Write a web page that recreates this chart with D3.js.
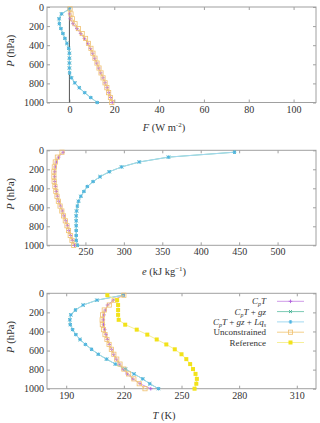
<!DOCTYPE html>
<html>
<head>
<meta charset="utf-8">
<script src="https://cdn.jsdelivr.net/npm/d3@7"></script>
<style>
  body { margin: 0; background: #fff; }
  svg { display: block; font-family: "Liberation Serif", "DejaVu Serif", serif; }
</style>
</head>
<body>
<div id="chart"></div>
<script>
// pressure levels (hPa), top to bottom
const levels = [20, 72, 123, 175, 226, 278, 329, 381, 433, 484, 536, 587, 639, 690, 742, 794, 845, 897, 948, 1000];

// F (W m-2)
const fluxCpT    = [0, 0.1, 0.4, 1.6, 3.3, 5.0, 6.7, 8.2, 9.4, 10.4, 11.3, 12.2, 13.1, 14.0, 15.0, 15.9, 16.8, 17.6, 18.4, 19.1];
const fluxCpTgz  = [0, -3.5, -4.6, -4.5, -3.8, -2.9, -2.0, -1.1, -0.3, 0, 0, 0, 0, 0.1, 0.9, 2.4, 4.4, 6.8, 9.5, 12.4];
const fluxCpTgzL = [0, -3.5, -4.6, -4.5, -3.8, -2.9, -2.0, -1.1, -0.3, 0, 0, 0, 0, 0.1, 0.9, 2.4, 4.4, 6.8, 9.5, 12.4];
const fluxUnc    = [0.3, 0.7, 1.3, 2.5, 4.0, 5.7, 7.2, 8.5, 9.6, 10.5, 11.4, 12.3, 13.2, 14.1, 15.0, 15.9, 16.7, 17.5, 18.3, 18.9];

// e (kJ kg-1)
const enCpT    = [221, 215, 212, 210.5, 210, 209.8, 210, 211, 212, 213.5, 215.3, 217.5, 219.8, 222, 224.3, 226.5, 228.5, 230.7, 233, 235.8];
const enCpTgz  = [444, 358, 320, 297, 281, 269, 260, 252.5, 248, 244, 241, 239.5, 238.5, 238, 238, 238, 238, 238, 238, 239.5];
const enCpTgzL = [444, 358, 320, 297, 281, 269, 260, 252.5, 248, 244, 241, 239.5, 238.5, 238, 238, 238, 238, 238, 238, 239.5];
const enUnc    = [219.5, 213.5, 210.8, 209.5, 209, 209, 209.3, 210.3, 211.5, 213, 214.8, 217, 219.3, 221.5, 223.8, 226, 228, 230.2, 232.5, 234.8];

// T (K)
const tCpT    = [219.5, 214.5, 211.5, 210.3, 209.6, 209.3, 209.4, 210, 210.7, 211.4, 212.4, 213.6, 214.7, 216.1, 217.8, 219.6, 221.7, 224.7, 228.4, 234];
const tCpTgz  = [219.5, 206, 198.8, 194.8, 192.4, 191.9, 192.1, 193.3, 195, 197.2, 200, 203.2, 206.7, 211, 215.6, 220.8, 225.3, 229.8, 233.5, 238];
const tCpTgzL = [219.5, 206, 198.8, 194.8, 192.4, 191.9, 192.1, 193.3, 195, 197.2, 200, 203.2, 206.7, 211, 215.6, 220.8, 225.3, 229.8, 233.5, 238];
const tUnc    = [220, 215, 212.4, 209.8, 208.9, 208.7, 208.8, 209.4, 210.2, 211.2, 212.3, 213.5, 214.8, 216.3, 218, 220, 222.5, 225.2, 228, 231];
const tRef    = [211.4, 216.5, 217, 217, 217, 217.3, 220.7, 226.7, 232.2, 237.1, 242.1, 246.5, 250, 252.5, 254.5, 256, 257.3, 258, 257.7, 256.8];

const pTicks = [0, 200, 400, 600, 800, 1000];
const fTicks = [0, 20, 40, 60, 80, 100];
const eTicks = [250, 300, 350, 400, 450, 500];
const tTicks = [190, 220, 250, 280, 310];

// series styles, in legend order
const styles = [
    {name: "cpt",   line: "#cf9ae8", mark: "#b060dc", sym: "plus"},
    {name: "cpgz",  line: "#7ccbb4", mark: "#2fa888", sym: "cross"},
    {name: "cpgzl", line: "#a3d9f0", mark: "#4db3e2", sym: "star"},
    {name: "unc",   line: "#f3cf8a", mark: "#f0c070", sym: "osq"},
    {name: "ref",   line: "#f6ef9a", mark: "#f2e21a", sym: "fsq"}
];

const W = 320, H = 423;
const left = 47, right = 316;
const titleX = 164;

const svg = d3.select("#chart").append("svg")
    .attr("width", W)
    .attr("height", H);

function marker(g, sym, x, y, col) {
    const s = 1.8;
    if (sym === "plus" || sym === "star") {
        g.append("path").attr("d", `M${x - s},${y}H${x + s}M${x},${y - s}V${y + s}`)
            .attr("stroke", col).attr("stroke-width", 0.9);
    }
    if (sym === "cross" || sym === "star") {
        const c = s * 0.8;
        g.append("path").attr("d", `M${x - c},${y - c}L${x + c},${y + c}M${x - c},${y + c}L${x + c},${y - c}`)
            .attr("stroke", col).attr("stroke-width", 0.9);
    }
    if (sym === "osq") {
        g.append("rect").attr("x", x - 2.1).attr("y", y - 2.1).attr("width", 4.2).attr("height", 4.2)
            .attr("fill", "none").attr("stroke", col).attr("stroke-width", 0.8);
    }
    if (sym === "fsq") {
        g.append("rect").attr("x", x - 2).attr("y", y - 2).attr("width", 4).attr("height", 4)
            .attr("fill", col);
    }
}

function drawPanel(top, height, xDomain, xTicks, series, zeroLine) {
    const x = d3.scaleLinear().domain(xDomain).range([left, right]);
    const y = d3.scaleLinear().domain([0, 1000]).range([top, top + height]);
    const g = svg.append("g");

    // frame
    g.append("rect")
        .attr("x", left).attr("y", top)
        .attr("width", right - left).attr("height", height)
        .attr("fill", "none").attr("stroke", "#a0a0a0").attr("stroke-width", 1);

    const fmt = d3.format("d");
    const ax = [
        g.append("g").attr("transform", "translate(0," + (top + height) + ")")
            .call(d3.axisBottom(x).tickValues(xTicks).tickSize(-3).tickPadding(3).tickFormat(fmt)),
        g.append("g").attr("transform", "translate(0," + top + ")")
            .call(d3.axisTop(x).tickValues(xTicks).tickSize(-3).tickFormat("")),
        g.append("g").attr("transform", "translate(" + left + ",0)")
            .call(d3.axisLeft(y).tickValues(pTicks).tickSize(-3).tickPadding(3).tickFormat(fmt)),
        g.append("g").attr("transform", "translate(" + right + ",0)")
            .call(d3.axisRight(y).tickValues(pTicks).tickSize(-3).tickFormat(""))
    ];
    ax.forEach(a => {
        a.select(".domain").remove();
        a.selectAll("line").attr("stroke", "#a0a0a0");
        a.selectAll("text").attr("fill", "#333").attr("font-size", 10)
            .attr("font-family", "Liberation Serif, DejaVu Serif, serif");
    });

    if (zeroLine) {
        g.append("line")
            .attr("x1", x(0)).attr("x2", x(0))
            .attr("y1", top).attr("y2", top + height)
            .attr("stroke", "#555").attr("stroke-width", 1);
    }

    const line = d3.line()
        .x(d => x(d[0]))
        .y(d => y(d[1]));

    series.forEach(s => {
        if (!s.values) return;
        const st = styles[s.idx];
        const pts = s.values.map((v, i) => [v, levels[i]]);
        g.append("path")
            .datum(pts)
            .attr("d", line)
            .attr("fill", "none")
            .attr("stroke", st.line)
            .attr("stroke-width", 1);
        const mg = g.append("g");
        pts.forEach(p => marker(mg, st.sym, x(p[0]), y(p[1]), st.mark));
    });

    // y title
    g.append("text")
        .attr("transform", "translate(13.5," + (top + height / 2 - 4) + ") rotate(-90)")
        .attr("text-anchor", "middle")
        .attr("font-size", 10.5)
        .attr("fill", "#333")
        .html('<tspan font-style="italic">P</tspan> (hPa)');
    return {x, y, g};
}

const p1 = drawPanel(7, 95.5, [-10, 110], fTicks, [
    {idx: 0, values: fluxCpT},
    {idx: 1, values: fluxCpTgz},
    {idx: 2, values: fluxCpTgzL},
    {idx: 3, values: fluxUnc}
], true);
p1.g.append("text")
    .attr("x", titleX).attr("y", 131)
    .attr("text-anchor", "middle").attr("font-size", 10.5).attr("fill", "#333")
    .html('<tspan font-style="italic">F</tspan>  (W  m<tspan font-size="7" dy="-4">-2</tspan><tspan dy="4">)</tspan>');

const p2 = drawPanel(150.3, 95, [200, 550], eTicks, [
    {idx: 0, values: enCpT},
    {idx: 1, values: enCpTgz},
    {idx: 2, values: enCpTgzL},
    {idx: 3, values: enUnc}
], false);
p2.g.append("text")
    .attr("x", titleX).attr("y", 275)
    .attr("text-anchor", "middle").attr("font-size", 10.5).attr("fill", "#333")
    .html('<tspan font-style="italic">e</tspan> (kJ kg<tspan font-size="7" dy="-4">−1</tspan><tspan dy="4">)</tspan>');

const p3 = drawPanel(293.3, 95.4, [180, 320], tTicks, [
    {idx: 0, values: tCpT},
    {idx: 1, values: tCpTgz},
    {idx: 2, values: tCpTgzL},
    {idx: 3, values: tUnc},
    {idx: 4, values: tRef}
], false);
p3.g.append("text")
    .attr("x", titleX).attr("y", 419)
    .attr("text-anchor", "middle").attr("font-size", 10.5).attr("fill", "#333")
    .html('<tspan font-style="italic">T</tspan> (K)');

// legend
const legendLabels = [
    '<tspan font-style="italic">C<tspan font-size="6" dy="2">p</tspan><tspan dy="-2">T</tspan></tspan>',
    '<tspan font-style="italic">C<tspan font-size="6" dy="2">p</tspan><tspan dy="-2">T</tspan></tspan> + <tspan font-style="italic">gz</tspan>',
    '<tspan font-style="italic">C<tspan font-size="6" dy="2">p</tspan><tspan dy="-2">T</tspan></tspan> + <tspan font-style="italic">gz</tspan> + <tspan font-style="italic">Lq<tspan font-size="6" dy="2">s</tspan></tspan>',
    'Unconstrained',
    'Reference'
];
const leg = svg.append("g");
legendLabels.forEach((lab, i) => {
    const yy = 301.3 + i * 10.3;
    const st = styles[i];
    leg.append("text")
        .attr("x", 266).attr("y", yy + 3)
        .attr("text-anchor", "end").attr("font-size", 9).attr("fill", "#333")
        .html(lab);
    leg.append("line")
        .attr("x1", 277).attr("x2", 304).attr("y1", yy).attr("y2", yy)
        .attr("stroke", st.line).attr("stroke-width", 1);
    marker(leg, st.sym, 290.5, yy, st.mark);
});
</script>
</body>
</html>
